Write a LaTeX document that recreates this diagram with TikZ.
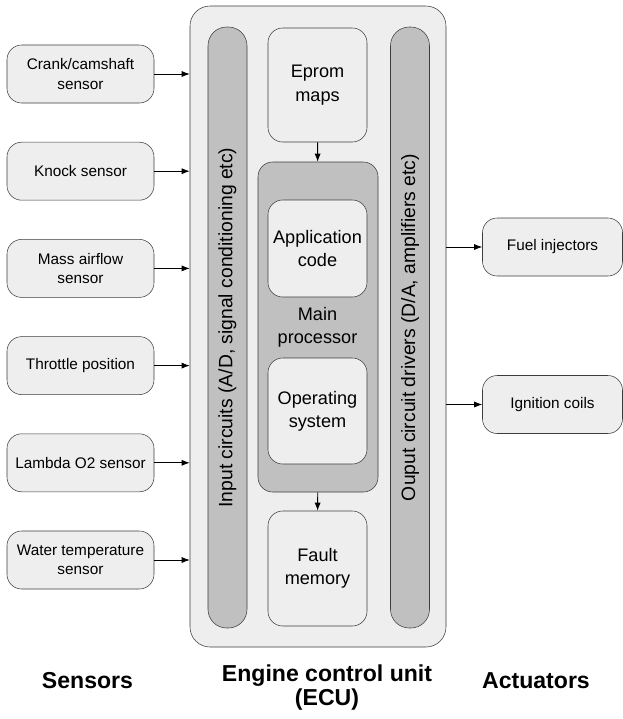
\documentclass[tikz,border=0pt]{standalone}
\usepackage{fontspec}
\setmainfont{Liberation Sans}
\usepackage{xcolor}
\usetikzlibrary{arrows.meta, positioning}
\definecolor{boxfill}{RGB}{238,238,238}
\definecolor{barfill}{RGB}{192,192,192}
\definecolor{edge}{RGB}{60,60,60}
\tikzstyle{sensor}  = [rectangle, rounded corners=11pt, minimum width=110.25pt,
                       minimum height=43.5pt, text centered, align=center, draw=edge,
                       fill=boxfill, inner sep=2pt, font=\fontsize{11.5}{14.5}\selectfont]
\tikzstyle{actuator} = [sensor, minimum width=105pt]
\tikzstyle{inner}   = [rectangle, rounded corners=11pt, minimum width=74.25pt,
                       text centered, align=center, draw=edge, fill=boxfill,
                       font=\fontsize{13.6}{17.5}\selectfont]
\tikzstyle{bar}     = [rectangle, rounded corners=14pt, minimum width=29.25pt,
                       minimum height=450.75pt, draw=edge, fill=barfill]
\tikzstyle{vlabel}  = [rotate=90, font=\fontsize{14.5}{16}\selectfont]
\tikzstyle{title}   = [align=center, font=\bfseries\fontsize{17.3}{18}\selectfont]
\tikzstyle{arrow}   = [draw=black, line width=0.6pt, -{Latex[length=6pt,width=4.5pt]}]

\begin{document}
\begin{tikzpicture}[x=0.75pt, y=-0.75pt]
  \useasboundingbox (0,0) rectangle (623,719);

  % ECU and its parts
  \node[rectangle, rounded corners=15pt, minimum width=192pt, minimum height=480.75pt,
        draw=edge, fill=boxfill] (ecu) at (318,326.5) {};
  \node[bar] (inbar)  at (227.5,327.5) {};
  \node[bar] (outbar) at (410,327.5) {};
  \node[vlabel] (inlbl)  at (inbar)  {Input circuits (A/D, signal conditioning etc)};
  \node[vlabel] (outlbl) at (outbar) {Ouput circuit drivers (D/A, amplifiers etc)};

  \node[inner, minimum height=85.5pt] (eprom) at (317.5,85) {Eprom\\maps};
  \node[rectangle, rounded corners=11pt, minimum width=90pt, minimum height=247.5pt,
        draw=edge, fill=barfill] (mainproc) at (318,327) {};
  \node[inner, minimum height=72.75pt] (app) at (317.5,248.5) {Application\\code};
  \node[inner, draw=none, fill=none] (mplbl) at (317.5,327) {Main\\processor};
  \node[inner, minimum height=79.5pt] (os) at (317.5,411) {Operating\\system};
  \node[inner, minimum height=86.25pt] (fault) at (317.5,568.5) {Fault\\memory};

  \draw[arrow] (eprom) -- (mainproc);
  \draw[arrow] (mainproc) -- (fault);

  % sensors
  \node[sensor] (crank)    at (80.5,74)    {Crank/camshaft\\sensor};
  \node[sensor] (knock)    at (80.5,171.2) {Knock sensor};
  \node[sensor] (maf)      at (80.5,268.4) {Mass airflow\\sensor};
  \node[sensor] (throttle) at (80.5,365.6) {Throttle position};
  \node[sensor] (lambda)   at (80.5,462.8) {Lambda O2 sensor};
  \node[sensor] (water)    at (80.5,560)   {Water temperature\\sensor};

  \foreach \s in {crank, knock, maf, throttle, lambda, water}
    \draw[arrow] (\s) -- (\s -| ecu.west);

  % actuators
  \node[actuator] (fuel) at (552.5,247)   {Fuel injectors};
  \node[actuator] (ign)  at (552.5,404.5) {Ignition coils};

  \draw[arrow] (fuel -| ecu.east) -- (fuel);
  \draw[arrow] (ign -| ecu.east)  -- (ign);

  % titles
  \node[title] (tsens) at (87.5,681)  {Sensors};
  \node[title] (tecu)  at (327,688)   {Engine control unit\\(ECU)};
  \node[title] (tact)  at (536,681)   {Actuators};
\end{tikzpicture}
\end{document}
